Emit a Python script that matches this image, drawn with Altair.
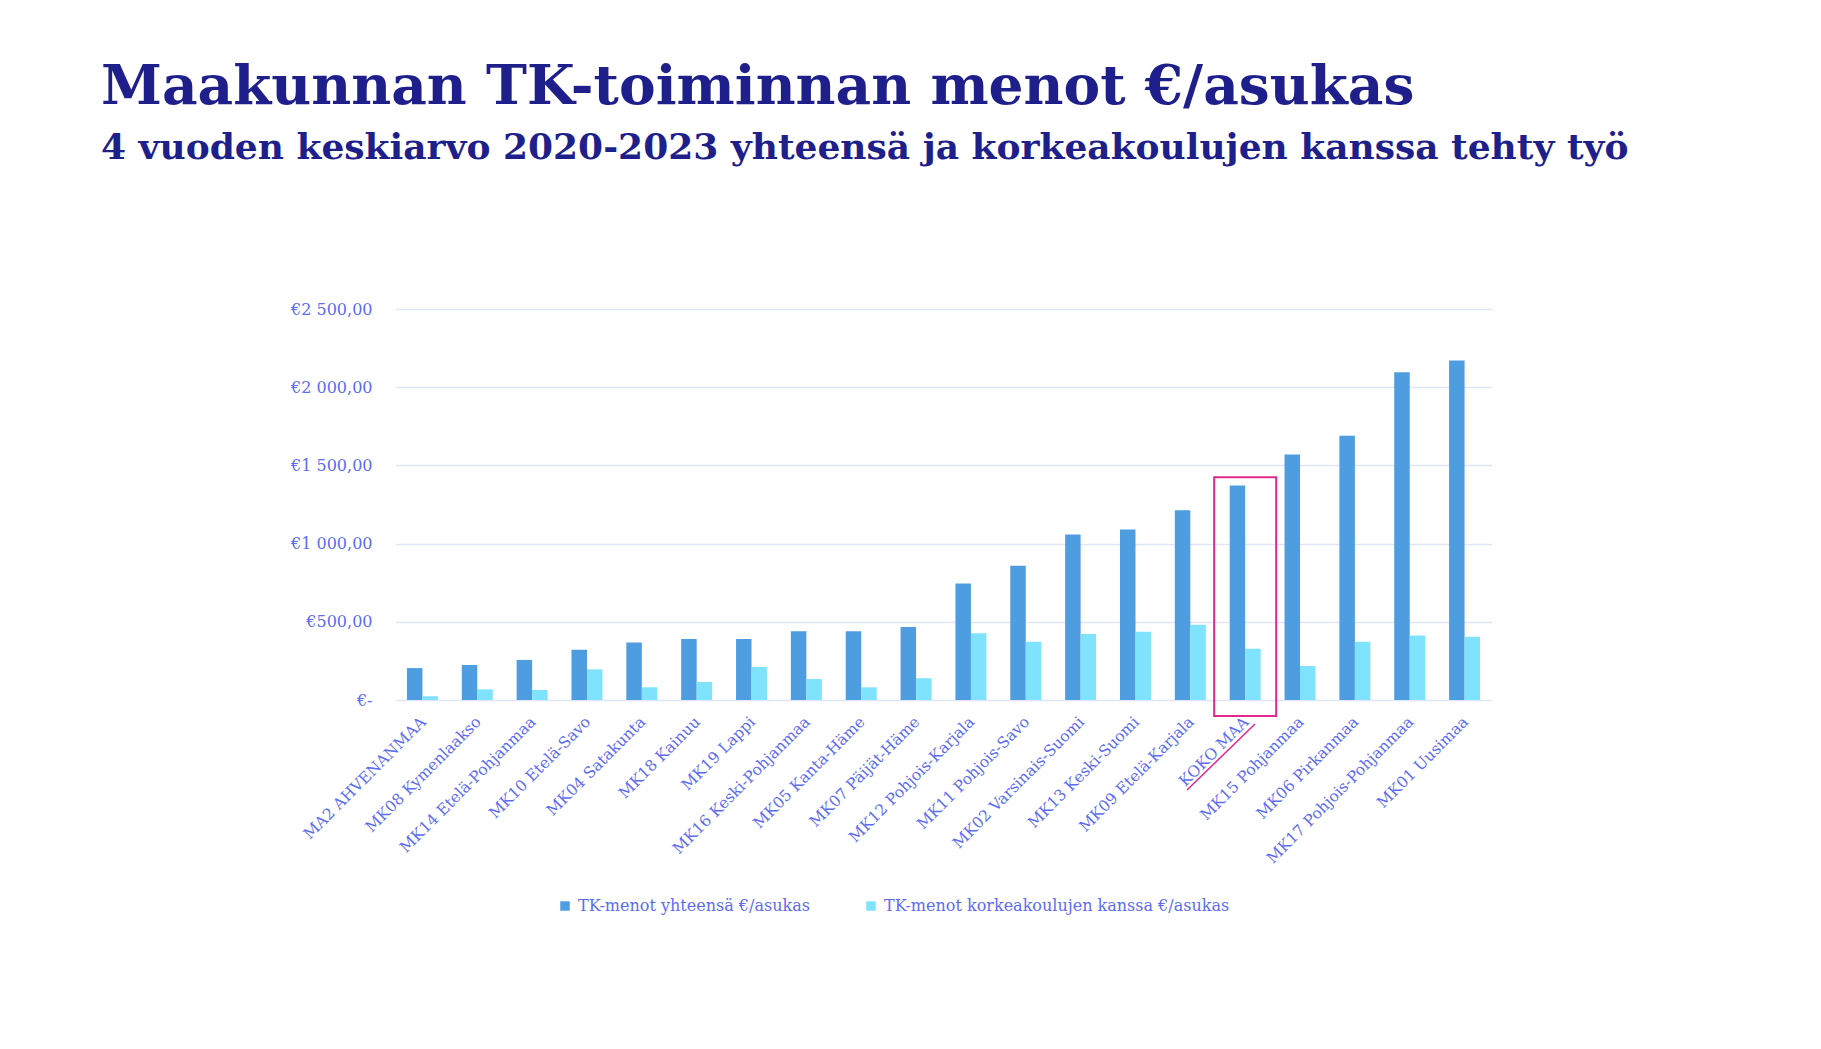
import altair as alt
import pandas as pd

categories = [
    "MA2 AHVENANMAA", "MK08 Kymenlaakso", "MK14 Etelä-Pohjanmaa", "MK10 Etelä-Savo",
    "MK04 Satakunta", "MK18 Kainuu", "MK19 Lappi", "MK16 Keski-Pohjanmaa",
    "MK05 Kanta-Häme", "MK07 Päijät-Häme", "MK12 Pohjois-Karjala", "MK11 Pohjois-Savo",
    "MK02 Varsinais-Suomi", "MK13 Keski-Suomi", "MK09 Etelä-Karjala", "KOKO MAA",
    "MK15 Pohjanmaa", "MK06 Pirkanmaa", "MK17 Pohjois-Pohjanmaa", "MK01 Uusimaa",
]
total = [204, 224, 256, 322, 368, 390, 390, 439, 439, 466,
         745, 858, 1058, 1090, 1214, 1371, 1569, 1689, 2095, 2170]
korkea = [24, 68, 64, 196, 81, 115, 211, 134, 81, 139,
          426, 373, 422, 437, 481, 328, 217, 373, 413, 405]
series = ["TK-menot yhteensä €/asukas", "TK-menot korkeakoulujen kanssa €/asukas"]
y_ticks = [0, 500, 1000, 1500, 2000, 2500]

highlight = "KOKO MAA"
box_top = 1425
box_bottom = -102

rows = []
for c, t, k in zip(categories, total, korkea):
    rows.append({"alue": c, "sarja": series[0], "arvo": t})
    rows.append({"alue": c, "sarja": series[1], "arvo": k})
df = pd.DataFrame(rows)
box_df = pd.DataFrame({"alue": [highlight], "top": [box_top], "bottom": [box_bottom]})

FONT = "DejaVu Serif"
LABEL = "#5b6cf2"
TITLE = "#1f1f8c"
DARK = "#4e9de0"
LIGHT = "#80e3fd"
PINK = "#e0288e"
GRID = "#e1e5fa"

xenc = alt.X(
    "alue:N", sort=categories, title=None,
    scale=alt.Scale(paddingInner=0.435, paddingOuter=0.2175),
    axis=alt.Axis(labelAngle=-45, labelAlign="right", labelBaseline="top",
                  labelPadding=14, labelOffset=-4, labelFont=FONT, labelFontSize=15.5,
                  labelColor=LABEL, domain=False, ticks=False, labelLimit=400),
)

yenc = alt.Y(
    "arvo:Q", title=None,
    scale=alt.Scale(domain=[0, 2500], nice=False),
    axis=alt.Axis(
        values=y_ticks,
        labelExpr="datum.value == 0 ? '€-' : '€' + replace(replace(format(datum.value, ',.2f'), ',', ' '), '.', ',')",
        grid=True, gridColor=GRID, gridWidth=1.5, domain=False, ticks=False,
        labelPadding=23, labelFont=FONT, labelFontSize=16, labelColor=LABEL,
    ),
)

bars = alt.Chart(df).mark_bar().encode(
    x=xenc,
    xOffset=alt.XOffset("sarja:N", sort=series,
                        scale=alt.Scale(paddingInner=0, paddingOuter=0)),
    y=yenc,
    color=alt.Color(
        "sarja:N", sort=series,
        scale=alt.Scale(domain=series, range=[DARK, LIGHT]),
        legend=alt.Legend(
            title=None, orient="none", legendX=162, legendY=589,
            direction="horizontal", symbolType="square", symbolSize=90,
            symbolStrokeWidth=0, labelFont=FONT, labelFontSize=16,
            labelColor=LABEL, columnPadding=53, labelOffset=5, labelLimit=500,
        ),
    ),
)

box = alt.Chart(box_df).mark_bar(
    fillOpacity=0, stroke=PINK, strokeWidth=2, width=62
).encode(
    x=alt.X("alue:N", sort=categories),
    y=alt.Y("top:Q"),
    y2="bottom:Q",
)

underline = alt.Chart(box_df).mark_rule(color=PINK, strokeWidth=1.5).encode(
    x=alt.value(792), y=alt.value(481), x2=alt.value(860), y2=alt.value(415)
)

chart = alt.layer(bars, box, underline).properties(
    width=1097, height=391,
    title=alt.Title(
        text="Maakunnan TK-toiminnan menot €/asukas",
        subtitle="4 vuoden keskiarvo 2020-2023 yhteensä ja korkeakoulujen kanssa tehty työ",
        anchor="start", frame="group", dx=-294, offset=134,
        font=FONT, fontSize=55, fontWeight="bold", color=TITLE,
        subtitleFont=FONT, subtitleFontSize=36, subtitleFontWeight="bold",
        subtitleColor=TITLE, subtitlePadding=15,
    ),
    autosize=alt.AutoSizeParams(type="none"),
    padding={"left": 387, "top": 301, "right": 300, "bottom": 300},
).configure_view(stroke=None)

chart.save("out.html", embed_options={"renderer": "svg", "actions": False})
